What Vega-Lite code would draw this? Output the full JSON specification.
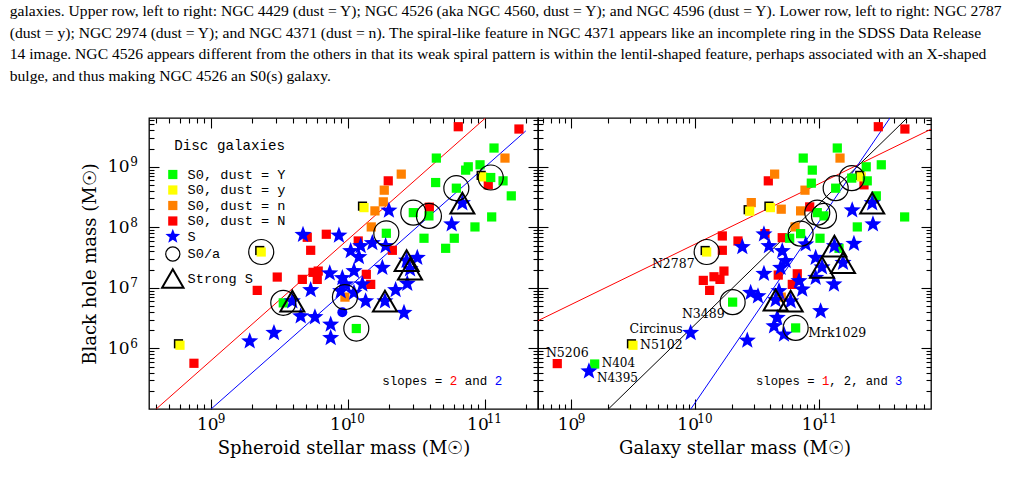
{
  "$schema": "https://vega.github.io/schema/vega-lite/v6.json",
  "background": "white",
  "padding": {"left": 9, "top": 3, "right": 5, "bottom": 5},
  "title": {
    "text": [
      "galaxies. Upper row, left to right: NGC 4429 (dust = Y); NGC 4526 (aka NGC 4560, dust = Y); and NGC 4596 (dust = Y). Lower row, left to right: NGC 2787",
      "(dust = y); NGC 2974 (dust = Y); and NGC 4371 (dust = n). The spiral-like feature in NGC 4371 appears like an incomplete ring in the SDSS Data Release",
      "14 image. NGC 4526 appears different from the others in that its weak spiral pattern is within the lentil-shaped feature, perhaps associated with an X-shaped",
      "bulge, and thus making NGC 4526 an S0(s) galaxy."
    ],
    "anchor": "start",
    "font": "Liberation Serif",
    "fontSize": 15.6,
    "fontWeight": "normal",
    "color": "black",
    "lineHeight": 21.7,
    "offset": 30,
    "dx": -71
  },
  "datasets": {
    "spheroidFits": [
      {"fit": "upper", "m": 8.6025, "bh": 5.0},
      {"fit": "upper", "m": 11.0055, "bh": 9.806},
      {"fit": "lower", "m": 9.0035, "bh": 5.0},
      {"fit": "lower", "m": 11.30, "bh": 9.593}
    ],
    "galaxyFits": [
      {"fit": "slope 1", "m": 8.737, "bh": 6.459},
      {"fit": "slope 1", "m": 11.899, "bh": 9.621},
      {"fit": "slope 2", "m": 9.3035, "bh": 5.0},
      {"fit": "slope 2", "m": 11.7065, "bh": 9.806},
      {"fit": "slope 3", "m": 9.9667, "bh": 5.0},
      {"fit": "slope 3", "m": 11.5687, "bh": 9.806}
    ],
    "spheroid": [
      {"m": 8.776, "bh": 6.053, "type": "y"},
      {"m": 8.878, "bh": 5.755, "type": "N"},
      {"m": 9.369, "bh": 7.593, "type": "y", "s0a": true},
      {"m": 9.486, "bh": 7.179, "type": "N"},
      {"m": 9.340, "bh": 6.959, "type": "N"},
      {"m": 9.669, "bh": 7.141, "type": "N"},
      {"m": 9.705, "bh": 7.836, "type": "N"},
      {"m": 9.844, "bh": 7.886, "type": "N"},
      {"m": 9.730, "bh": 7.621, "type": "N"},
      {"m": 9.747, "bh": 7.257, "type": "N"},
      {"m": 9.785, "bh": 7.278, "type": "N"},
      {"m": 9.778, "bh": 7.141, "type": "N"},
      {"m": 10.077, "bh": 7.775, "type": "N"},
      {"m": 10.326, "bh": 7.621, "type": "N"},
      {"m": 10.136, "bh": 7.224, "type": "N"},
      {"m": 10.168, "bh": 7.058, "type": "N"},
      {"m": 10.296, "bh": 8.768, "type": "N"},
      {"m": 10.596, "bh": 8.333, "type": "N"},
      {"m": 10.807, "bh": 9.662, "type": "N"},
      {"m": 11.250, "bh": 9.624, "type": "N"},
      {"m": 11.026, "bh": 8.702, "type": "N"},
      {"m": 10.391, "bh": 8.879, "type": "n"},
      {"m": 10.267, "bh": 8.614, "type": "n"},
      {"m": 10.260, "bh": 8.421, "type": "n"},
      {"m": 10.199, "bh": 8.272, "type": "n"},
      {"m": 10.172, "bh": 8.007, "type": "n"},
      {"m": 9.980, "bh": 6.848, "type": "n", "s0a": true},
      {"m": 11.148, "bh": 9.144, "type": "n"},
      {"m": 10.119, "bh": 8.326, "type": "y"},
      {"m": 10.985, "bh": 8.834, "type": "y"},
      {"m": 9.530, "bh": 6.753, "type": "Y", "s0a": true},
      {"m": 10.063, "bh": 6.329, "type": "Y", "s0a": true},
      {"m": 10.282, "bh": 7.902, "type": "Y", "s0a": true},
      {"m": 10.479, "bh": 8.243, "type": "Y", "s0a": true},
      {"m": 10.593, "bh": 8.189, "type": "Y", "s0a": true},
      {"m": 10.793, "bh": 8.647, "type": "Y", "s0a": true},
      {"m": 11.044, "bh": 8.823, "type": "Y", "s0a": true},
      {"m": 10.647, "bh": 9.144, "type": "Y"},
      {"m": 11.068, "bh": 9.310, "type": "Y"},
      {"m": 10.880, "bh": 9.000, "type": "Y"},
      {"m": 10.861, "bh": 8.945, "type": "Y"},
      {"m": 10.966, "bh": 9.033, "type": "Y"},
      {"m": 11.134, "bh": 8.768, "type": "Y"},
      {"m": 11.194, "bh": 8.520, "type": "Y"},
      {"m": 10.642, "bh": 8.740, "type": "Y"},
      {"m": 11.051, "bh": 8.172, "type": "Y"},
      {"m": 10.929, "bh": 8.007, "type": "Y"},
      {"m": 10.557, "bh": 7.820, "type": "Y"},
      {"m": 10.778, "bh": 7.820, "type": "Y"},
      {"m": 10.715, "bh": 7.654, "type": "Y"},
      {"m": 9.285, "bh": 6.119, "type": "S"},
      {"m": 9.462, "bh": 6.257, "type": "S"},
      {"m": 9.596, "bh": 6.781, "type": "S", "strong": true},
      {"m": 9.657, "bh": 6.533, "type": "S"},
      {"m": 9.674, "bh": 7.877, "type": "S"},
      {"m": 9.936, "bh": 7.866, "type": "S"},
      {"m": 9.730, "bh": 6.964, "type": "S"},
      {"m": 9.761, "bh": 6.517, "type": "S"},
      {"m": 9.876, "bh": 6.396, "type": "S"},
      {"m": 9.876, "bh": 6.174, "type": "S"},
      {"m": 9.869, "bh": 7.242, "type": "S"},
      {"m": 9.961, "bh": 7.162, "type": "S"},
      {"m": 10.046, "bh": 7.278, "type": "S"},
      {"m": 10.022, "bh": 7.609, "type": "S"},
      {"m": 10.095, "bh": 7.692, "type": "S"},
      {"m": 10.082, "bh": 7.510, "type": "S"},
      {"m": 10.180, "bh": 7.742, "type": "S"},
      {"m": 10.277, "bh": 7.692, "type": "S"},
      {"m": 10.301, "bh": 8.277, "type": "S"},
      {"m": 10.253, "bh": 7.333, "type": "S"},
      {"m": 9.985, "bh": 7.058, "type": "S"},
      {"m": 10.107, "bh": 7.058, "type": "S"},
      {"m": 10.046, "bh": 6.919, "type": "S"},
      {"m": 9.949, "bh": 6.947, "type": "S"},
      {"m": 10.131, "bh": 6.781, "type": "S"},
      {"m": 10.350, "bh": 6.964, "type": "S"},
      {"m": 10.435, "bh": 7.071, "type": "S"},
      {"m": 10.508, "bh": 7.498, "type": "S"},
      {"m": 10.430, "bh": 7.450, "type": "S", "strong": true},
      {"m": 10.455, "bh": 7.310, "type": "S", "strong": true},
      {"m": 10.272, "bh": 6.781, "type": "S", "strong": true},
      {"m": 10.411, "bh": 6.588, "type": "S"},
      {"m": 10.759, "bh": 8.051, "type": "S"},
      {"m": 10.837, "bh": 8.400, "type": "S", "strong": true},
      {"m": 9.961, "bh": 6.599, "type": "dot"}
    ],
    "galaxy": [
      {"m": 8.892, "bh": 5.750, "type": "N", "name": "N5206"},
      {"m": 10.220, "bh": 7.858, "type": "N"},
      {"m": 10.346, "bh": 7.775, "type": "N"},
      {"m": 10.563, "bh": 7.896, "type": "N"},
      {"m": 10.220, "bh": 7.621, "type": "N"},
      {"m": 10.233, "bh": 7.278, "type": "N"},
      {"m": 10.153, "bh": 7.184, "type": "N"},
      {"m": 10.201, "bh": 7.141, "type": "N"},
      {"m": 10.067, "bh": 7.124, "type": "N"},
      {"m": 10.118, "bh": 6.959, "type": "N"},
      {"m": 10.590, "bh": 8.768, "type": "N"},
      {"m": 10.923, "bh": 8.338, "type": "N"},
      {"m": 11.475, "bh": 9.662, "type": "N"},
      {"m": 11.689, "bh": 9.624, "type": "N"},
      {"m": 11.360, "bh": 8.702, "type": "N"},
      {"m": 10.702, "bh": 7.829, "type": "N"},
      {"m": 10.823, "bh": 7.233, "type": "N"},
      {"m": 10.670, "bh": 7.212, "type": "N"},
      {"m": 10.783, "bh": 7.058, "type": "N"},
      {"m": 10.453, "bh": 8.409, "type": "n"},
      {"m": 10.641, "bh": 8.879, "type": "n"},
      {"m": 10.885, "bh": 8.614, "type": "n"},
      {"m": 10.694, "bh": 8.300, "type": "n"},
      {"m": 10.850, "bh": 8.272, "type": "n"},
      {"m": 10.805, "bh": 8.007, "type": "n"},
      {"m": 11.167, "bh": 9.144, "type": "n"},
      {"m": 10.694, "bh": 6.848, "type": "n"},
      {"m": 10.094, "bh": 7.593, "type": "y", "s0a": true, "name": "N2787"},
      {"m": 10.440, "bh": 8.267, "type": "y"},
      {"m": 10.607, "bh": 8.326, "type": "y"},
      {"m": 11.338, "bh": 8.834, "type": "y"},
      {"m": 9.501, "bh": 6.053, "type": "y", "name": "N5102"},
      {"m": 9.193, "bh": 5.743, "type": "Y", "name": "N404"},
      {"m": 10.303, "bh": 6.765, "type": "Y", "s0a": true, "name": "N3489"},
      {"m": 10.810, "bh": 6.339, "type": "Y", "s0a": true, "name": "Mrk1029"},
      {"m": 10.850, "bh": 7.896, "type": "Y", "s0a": true},
      {"m": 10.984, "bh": 8.243, "type": "Y", "s0a": true},
      {"m": 11.038, "bh": 8.189, "type": "Y", "s0a": true},
      {"m": 11.132, "bh": 8.647, "type": "Y", "s0a": true},
      {"m": 11.261, "bh": 8.813, "type": "Y", "s0a": true},
      {"m": 11.145, "bh": 9.310, "type": "Y"},
      {"m": 10.871, "bh": 9.144, "type": "Y"},
      {"m": 10.944, "bh": 8.945, "type": "Y"},
      {"m": 11.378, "bh": 9.000, "type": "Y"},
      {"m": 11.499, "bh": 9.033, "type": "Y"},
      {"m": 11.386, "bh": 8.768, "type": "Y"},
      {"m": 10.936, "bh": 8.730, "type": "Y"},
      {"m": 11.459, "bh": 8.520, "type": "Y"},
      {"m": 11.687, "bh": 8.172, "type": "Y"},
      {"m": 11.306, "bh": 8.007, "type": "Y"},
      {"m": 10.762, "bh": 7.820, "type": "Y"},
      {"m": 11.006, "bh": 7.820, "type": "Y"},
      {"m": 11.159, "bh": 7.654, "type": "Y"},
      {"m": 9.147, "bh": 5.623, "type": "S", "name": "N4395"},
      {"m": 9.965, "bh": 6.257, "type": "S", "name": "Circinus"},
      {"m": 10.421, "bh": 6.131, "type": "S"},
      {"m": 10.381, "bh": 7.675, "type": "S"},
      {"m": 10.555, "bh": 7.886, "type": "S"},
      {"m": 10.595, "bh": 7.692, "type": "S"},
      {"m": 10.555, "bh": 7.233, "type": "S"},
      {"m": 10.448, "bh": 6.919, "type": "S"},
      {"m": 10.507, "bh": 6.864, "type": "S"},
      {"m": 10.702, "bh": 7.609, "type": "S"},
      {"m": 10.891, "bh": 7.720, "type": "S"},
      {"m": 11.279, "bh": 7.730, "type": "S"},
      {"m": 11.265, "bh": 8.283, "type": "S"},
      {"m": 11.432, "bh": 8.051, "type": "S"},
      {"m": 11.426, "bh": 8.400, "type": "S", "strong": true},
      {"m": 11.122, "bh": 7.690, "type": "S", "strong": true},
      {"m": 11.191, "bh": 7.416, "type": "S", "strong": true},
      {"m": 11.022, "bh": 7.340, "type": "S", "strong": true},
      {"m": 10.971, "bh": 7.498, "type": "S"},
      {"m": 11.118, "bh": 7.058, "type": "S"},
      {"m": 10.971, "bh": 7.167, "type": "S"},
      {"m": 10.689, "bh": 7.333, "type": "S"},
      {"m": 10.837, "bh": 7.113, "type": "S"},
      {"m": 10.863, "bh": 6.975, "type": "S"},
      {"m": 10.676, "bh": 6.947, "type": "S"},
      {"m": 10.770, "bh": 6.780, "type": "S", "strong": true},
      {"m": 10.649, "bh": 6.800, "type": "S", "strong": true},
      {"m": 10.662, "bh": 6.505, "type": "S"},
      {"m": 10.636, "bh": 6.368, "type": "S"},
      {"m": 10.716, "bh": 6.230, "type": "S"},
      {"m": 11.011, "bh": 6.616, "type": "S"},
      {"m": 10.730, "bh": 7.444, "type": "S"}
    ]
  },
  "spacing": 0,
  "bounds": "flush",
  "resolve": {"scale": {"x": "independent", "y": "independent", "shape": "independent", "fill": "independent", "stroke": "independent"}},
  "hconcat": [
    {
      "width": 389,
      "height": 291,
      "resolve": {"axis": {"x": "independent", "y": "independent"}},
      "layer": [
        {
          "data": {"name": "spheroidFits"},
          "mark": {"type": "line", "strokeWidth": 1, "clip": true},
          "encoding": {
            "x": {"field": "m", "type": "quantitative", "scale": {"domain": [8.55, 11.389], "nice": false, "zero": false},
              "axis": {"orient": "bottom", "values": [9, 10, 11], "labels": false, "tickSize": -10, "title": null}},
            "y": {"field": "bh", "type": "quantitative", "scale": {"domain": [5, 9.806], "nice": false, "zero": false},
              "axis": {"orient": "left", "values": [6, 7, 8, 9], "labels": false, "tickSize": -10, "title": null}},
            "stroke": {"field": "fit", "type": "nominal", "scale": {"domain": ["upper", "lower"], "range": ["#ff0000", "#0000ff"]}, "legend": null}
          }
        },
        {
          "data": {"name": "spheroidFits"},
          "mark": {"type": "point", "opacity": 0},
          "encoding": {
            "x": {"field": "m", "type": "quantitative", "axis": {"orient": "bottom", "values": [8.602, 8.699, 8.778, 8.845, 8.903, 8.954, 9.301, 9.477, 9.602, 9.699, 9.778, 9.845, 9.903, 9.954, 10.301, 10.477, 10.602, 10.699, 10.778, 10.845, 10.903, 10.954, 11.301], "labels": false, "tickSize": -5, "title": null}},
            "y": {"field": "bh", "type": "quantitative", "axis": {"orient": "left", "values": [5.301, 5.477, 5.602, 5.699, 5.778, 5.845, 5.903, 5.954, 6.301, 6.477, 6.602, 6.699, 6.778, 6.845, 6.903, 6.954, 7.301, 7.477, 7.602, 7.699, 7.778, 7.845, 7.903, 7.954, 8.301, 8.477, 8.602, 8.699, 8.778, 8.845, 8.903, 8.954, 9.301, 9.477, 9.602, 9.699, 9.778], "labels": false, "tickSize": -5, "title": null}}
          }
        },
        {
          "data": {"name": "spheroidFits"},
          "mark": {"type": "point", "opacity": 0},
          "encoding": {
            "x": {"field": "m", "type": "quantitative", "axis": {"orient": "top", "values": [9, 10, 11], "labels": false, "tickSize": -10, "title": null}},
            "y": {"field": "bh", "type": "quantitative", "axis": {"orient": "right", "values": [6, 7, 8, 9], "labels": false, "tickSize": -10, "title": null}}
          }
        },
        {
          "data": {"name": "spheroidFits"},
          "mark": {"type": "point", "opacity": 0},
          "encoding": {
            "x": {"field": "m", "type": "quantitative", "axis": {"orient": "top", "values": [8.602, 8.699, 8.778, 8.845, 8.903, 8.954, 9.301, 9.477, 9.602, 9.699, 9.778, 9.845, 9.903, 9.954, 10.301, 10.477, 10.602, 10.699, 10.778, 10.845, 10.903, 10.954, 11.301], "labels": false, "tickSize": -5, "title": null}},
            "y": {"field": "bh", "type": "quantitative", "axis": {"orient": "right", "values": [5.301, 5.477, 5.602, 5.699, 5.778, 5.845, 5.903, 5.954, 6.301, 6.477, 6.602, 6.699, 6.778, 6.845, 6.903, 6.954, 7.301, 7.477, 7.602, 7.699, 7.778, 7.845, 7.903, 7.954, 8.301, 8.477, 8.602, 8.699, 8.778, 8.845, 8.903, 8.954, 9.301, 9.477, 9.602, 9.699, 9.778], "labels": false, "tickSize": -5, "title": null}}
          }
        },
        {
          "data": {"name": "spheroidFits"},
          "mark": {"type": "point", "opacity": 0},
          "encoding": {
            "x": {"field": "m", "type": "quantitative", "axis": {"orient": "bottom", "values": [9], "ticks": false, "labelExpr": "'10'", "labelOffset": -3.4, "labelPadding": 7.5, "labelFontSize": 17, "title": null}},
            "y": {"field": "bh", "type": "quantitative", "axis": {"orient": "left", "values": [6, 7, 8, 9], "ticks": false, "labelExpr": "'10'", "labelPadding": 20, "labelFontSize": 17, "title": "Black hole mass (M☉)", "titlePadding": 8}}
          }
        },
        {
          "data": {"name": "spheroidFits"},
          "mark": {"type": "point", "opacity": 0},
          "encoding": {
            "x": {"field": "m", "type": "quantitative", "axis": {"orient": "bottom", "values": [10, 11], "ticks": false, "labelExpr": "'10'", "labelOffset": -7.3, "labelPadding": 7.5, "labelFontSize": 17, "title": "Spheroid stellar mass (M☉)", "titlePadding": 7}},
            "y": {"field": "bh", "type": "quantitative", "axis": {"orient": "left", "values": [6, 7, 8, 9], "ticks": false, "labelExpr": "'' + datum.value", "labelPadding": 11.7, "labelOffset": -5, "labelFontSize": 12, "title": null}}
          }
        },
        {
          "data": {"name": "spheroidFits"},
          "mark": {"type": "point", "opacity": 0},
          "encoding": {
            "x": {"field": "m", "type": "quantitative", "axis": {"orient": "bottom", "values": [9], "ticks": false, "labelExpr": "'9'", "labelAlign": "left", "labelOffset": 6.5, "labelPadding": 4, "labelFontSize": 12, "title": null}},
            "y": {"field": "bh", "type": "quantitative", "axis": null}
          }
        },
        {
          "data": {"name": "spheroidFits"},
          "mark": {"type": "point", "opacity": 0},
          "encoding": {
            "x": {"field": "m", "type": "quantitative", "axis": {"orient": "bottom", "values": [10, 11], "ticks": false, "labelExpr": "'' + datum.value", "labelAlign": "left", "labelOffset": 1.5, "labelPadding": 4, "labelFontSize": 12, "title": null}},
            "y": {"field": "bh", "type": "quantitative", "axis": null}
          }
        },
        {
          "data": {"name": "spheroid"},
          "transform": [{"filter": "datum.type == 'y'"}],
          "mark": {"type": "point", "shape": "square", "filled": true, "color": "black", "opacity": 1, "size": 85, "xOffset": -1.5, "yOffset": -1.5},
          "encoding": {
            "x": {"field": "m", "type": "quantitative", "axis": null},
            "y": {"field": "bh", "type": "quantitative", "axis": null}
          }
        },
        {
          "data": {"name": "spheroid"},
          "transform": [{"filter": "datum.type != 'dot'"}],
          "mark": {"type": "point", "filled": true, "opacity": 1, "strokeWidth": 0},
          "encoding": {
            "x": {"field": "m", "type": "quantitative", "axis": null},
            "y": {"field": "bh", "type": "quantitative", "axis": null},
            "shape": {
              "field": "type", "type": "nominal",
              "scale": {"domain": ["Y", "y", "n", "N", "S", "S0/a", "Strong S"], "range": ["square", "square", "square", "square", "M0,-1L0.2469,-0.3398L0.9511,-0.309L0.3995,0.1298L0.5878,0.809L0,0.42L-0.5878,0.809L-0.3995,0.1298L-0.9511,-0.309L-0.2469,-0.3398Z", "circle", "triangle-up"]},
              "legend": {
                "orient": "none", "legendX": 17, "legendY": 21, "padding": 0,
                "title": "Disc galaxies", "titleAnchor": "end", "titleFont": "Liberation Mono", "titleFontSize": 14.2, "titleFontWeight": "normal", "titleColor": "black", "titlePadding": 14.5,
                "labelFont": "Liberation Mono", "labelFontSize": 13.6, "labelColor": "black", "labelOffset": 8, "rowPadding": 0.5, "symbolSize": 324,
                "labelExpr": "datum.value == 'S' || datum.value == 'S0/a' || datum.value == 'Strong S' ? datum.value : 'S0, dust = ' + datum.value",
                "encoding": {
                  "symbols": {
                    "fill": {"value": {"expr": "datum.value == 'Y' ? '#00ff00' : datum.value == 'y' ? '#ffff00' : datum.value == 'n' ? '#ff8000' : datum.value == 'N' ? '#ff0000' : datum.value == 'S' ? '#0000ff' : 'transparent'"}},
                    "stroke": {"value": {"expr": "datum.value == 'S0/a' || datum.value == 'Strong S' ? 'black' : 'transparent'"}},
                    "strokeWidth": {"value": {"expr": "datum.value == 'Strong S' ? 2 : datum.value == 'S0/a' ? 1.2 : 0"}},
                    "size": {"value": {"expr": "datum.value == 'S' ? 240 : datum.value == 'S0/a' ? 200 : datum.value == 'Strong S' ? 460 : 85"}},
                    "opacity": {"value": 1}
                  }
                }
              }
            },
            "fill": {
              "field": "type", "type": "nominal",
              "scale": {"domain": ["Y", "y", "n", "N", "S", "S0/a", "Strong S"], "range": ["#00ff00", "#ffff00", "#ff8000", "#ff0000", "#0000ff", "#ffffff", "#ffffff"]},
              "legend": null
            },
            "size": {"condition": {"test": "datum.type == 'S'", "value": 324}, "value": 85}
          }
        },
        {
          "data": {"name": "spheroid"},
          "transform": [{"filter": "datum.type == 'dot'"}],
          "mark": {"type": "point", "shape": "circle", "filled": true, "color": "#0000ff", "opacity": 1, "size": 100},
          "encoding": {
            "x": {"field": "m", "type": "quantitative", "axis": null},
            "y": {"field": "bh", "type": "quantitative", "axis": null}
          }
        },
        {
          "data": {"name": "spheroid"},
          "transform": [{"filter": "datum.s0a"}],
          "mark": {"type": "point", "shape": "circle", "filled": false, "color": "black", "strokeWidth": 1.2, "opacity": 1, "size": 625},
          "encoding": {
            "x": {"field": "m", "type": "quantitative", "axis": null},
            "y": {"field": "bh", "type": "quantitative", "axis": null}
          }
        },
        {
          "data": {"name": "spheroid"},
          "transform": [{"filter": "datum.strong"}],
          "mark": {"type": "point", "shape": "triangle-up", "filled": false, "color": "black", "strokeWidth": 2, "opacity": 1, "size": 576},
          "encoding": {
            "x": {"field": "m", "type": "quantitative", "axis": null},
            "y": {"field": "bh", "type": "quantitative", "axis": null}
          }
        },
        {
          "data": {"values": [{}]},
          "mark": {"type": "text", "align": "left", "baseline": "middle", "font": "Liberation Mono", "fontSize": 12.5, "color": "black"},
          "encoding": {
            "x": {"datum": 10.2526, "type": "quantitative", "axis": null},
            "y": {"datum": 5.4685, "type": "quantitative", "axis": null},
            "text": {"value": "slopes ="}
          }
        },
        {
          "data": {"values": [{}]},
          "mark": {"type": "text", "align": "left", "baseline": "middle", "font": "Liberation Mono", "fontSize": 12.5, "color": "#ff0000", "dx": 67.5},
          "encoding": {
            "x": {"datum": 10.2526, "type": "quantitative", "axis": null},
            "y": {"datum": 5.4685, "type": "quantitative", "axis": null},
            "text": {"value": "2"}
          }
        },
        {
          "data": {"values": [{}]},
          "mark": {"type": "text", "align": "left", "baseline": "middle", "font": "Liberation Mono", "fontSize": 12.5, "color": "black", "dx": 82.5},
          "encoding": {
            "x": {"datum": 10.2526, "type": "quantitative", "axis": null},
            "y": {"datum": 5.4685, "type": "quantitative", "axis": null},
            "text": {"value": "and"}
          }
        },
        {
          "data": {"values": [{}]},
          "mark": {"type": "text", "align": "left", "baseline": "middle", "font": "Liberation Mono", "fontSize": 12.5, "color": "#0000ff", "dx": 112.5},
          "encoding": {
            "x": {"datum": 10.2526, "type": "quantitative", "axis": null},
            "y": {"datum": 5.4685, "type": "quantitative", "axis": null},
            "text": {"value": "2"}
          }
        }
      ]
    },
    {
      "width": 393,
      "height": 291,
      "resolve": {"axis": {"x": "independent", "y": "independent"}},
      "layer": [
        {
          "data": {"name": "galaxyFits"},
          "mark": {"type": "line", "strokeWidth": 1, "clip": true},
          "encoding": {
            "x": {"field": "m", "type": "quantitative", "scale": {"domain": [8.737, 11.899], "nice": false, "zero": false},
              "axis": {"orient": "bottom", "values": [9, 10, 11], "labels": false, "tickSize": -10, "title": null}},
            "y": {"field": "bh", "type": "quantitative", "scale": {"domain": [5, 9.806], "nice": false, "zero": false},
              "axis": {"orient": "left", "values": [6, 7, 8, 9], "labels": false, "tickSize": -10, "title": null}},
            "stroke": {"field": "fit", "type": "nominal", "scale": {"domain": ["slope 1", "slope 2", "slope 3"], "range": ["#ff0000", "#000000", "#0000ff"]}, "legend": null}
          }
        },
        {
          "data": {"name": "galaxyFits"},
          "mark": {"type": "point", "opacity": 0},
          "encoding": {
            "x": {"field": "m", "type": "quantitative", "axis": {"orient": "bottom", "values": [8.778, 8.845, 8.903, 8.954, 9.301, 9.477, 9.602, 9.699, 9.778, 9.845, 9.903, 9.954, 10.301, 10.477, 10.602, 10.699, 10.778, 10.845, 10.903, 10.954, 11.301, 11.477, 11.602, 11.699, 11.778, 11.845], "labels": false, "tickSize": -5, "title": null}},
            "y": {"field": "bh", "type": "quantitative", "axis": {"orient": "left", "values": [5.301, 5.477, 5.602, 5.699, 5.778, 5.845, 5.903, 5.954, 6.301, 6.477, 6.602, 6.699, 6.778, 6.845, 6.903, 6.954, 7.301, 7.477, 7.602, 7.699, 7.778, 7.845, 7.903, 7.954, 8.301, 8.477, 8.602, 8.699, 8.778, 8.845, 8.903, 8.954, 9.301, 9.477, 9.602, 9.699, 9.778], "labels": false, "tickSize": -5, "title": null}}
          }
        },
        {
          "data": {"name": "galaxyFits"},
          "mark": {"type": "point", "opacity": 0},
          "encoding": {
            "x": {"field": "m", "type": "quantitative", "axis": {"orient": "top", "values": [9, 10, 11], "labels": false, "tickSize": -10, "title": null}},
            "y": {"field": "bh", "type": "quantitative", "axis": {"orient": "right", "values": [6, 7, 8, 9], "labels": false, "tickSize": -10, "title": null}}
          }
        },
        {
          "data": {"name": "galaxyFits"},
          "mark": {"type": "point", "opacity": 0},
          "encoding": {
            "x": {"field": "m", "type": "quantitative", "axis": {"orient": "top", "values": [8.778, 8.845, 8.903, 8.954, 9.301, 9.477, 9.602, 9.699, 9.778, 9.845, 9.903, 9.954, 10.301, 10.477, 10.602, 10.699, 10.778, 10.845, 10.903, 10.954, 11.301, 11.477, 11.602, 11.699, 11.778, 11.845], "labels": false, "tickSize": -5, "title": null}},
            "y": {"field": "bh", "type": "quantitative", "axis": {"orient": "right", "values": [5.301, 5.477, 5.602, 5.699, 5.778, 5.845, 5.903, 5.954, 6.301, 6.477, 6.602, 6.699, 6.778, 6.845, 6.903, 6.954, 7.301, 7.477, 7.602, 7.699, 7.778, 7.845, 7.903, 7.954, 8.301, 8.477, 8.602, 8.699, 8.778, 8.845, 8.903, 8.954, 9.301, 9.477, 9.602, 9.699, 9.778], "labels": false, "tickSize": -5, "title": null}}
          }
        },
        {
          "data": {"name": "galaxyFits"},
          "mark": {"type": "point", "opacity": 0},
          "encoding": {
            "x": {"field": "m", "type": "quantitative", "axis": {"orient": "bottom", "values": [9], "ticks": false, "labelExpr": "'10'", "labelOffset": -2.7, "labelPadding": 7.5, "labelFontSize": 17, "title": null}},
            "y": {"field": "bh", "type": "quantitative", "axis": null}
          }
        },
        {
          "data": {"name": "galaxyFits"},
          "mark": {"type": "point", "opacity": 0},
          "encoding": {
            "x": {"field": "m", "type": "quantitative", "axis": {"orient": "bottom", "values": [10, 11], "ticks": false, "labelExpr": "'10'", "labelOffset": -7.3, "labelPadding": 7.5, "labelFontSize": 17, "title": "Galaxy stellar mass (M☉)", "titlePadding": 7}},
            "y": {"field": "bh", "type": "quantitative", "axis": null}
          }
        },
        {
          "data": {"name": "galaxyFits"},
          "mark": {"type": "point", "opacity": 0},
          "encoding": {
            "x": {"field": "m", "type": "quantitative", "axis": {"orient": "bottom", "values": [9], "ticks": false, "labelExpr": "'9'", "labelAlign": "left", "labelOffset": 6.6, "labelPadding": 4, "labelFontSize": 12, "title": null}},
            "y": {"field": "bh", "type": "quantitative", "axis": null}
          }
        },
        {
          "data": {"name": "galaxyFits"},
          "mark": {"type": "point", "opacity": 0},
          "encoding": {
            "x": {"field": "m", "type": "quantitative", "axis": {"orient": "bottom", "values": [10, 11], "ticks": false, "labelExpr": "'' + datum.value", "labelAlign": "left", "labelOffset": 1.8, "labelPadding": 4, "labelFontSize": 12, "title": null}},
            "y": {"field": "bh", "type": "quantitative", "axis": null}
          }
        },
        {
          "data": {"name": "galaxy"},
          "transform": [{"filter": "datum.type == 'y'"}],
          "mark": {"type": "point", "shape": "square", "filled": true, "color": "black", "opacity": 1, "size": 85, "xOffset": -1.5, "yOffset": -1.5},
          "encoding": {
            "x": {"field": "m", "type": "quantitative", "axis": null},
            "y": {"field": "bh", "type": "quantitative", "axis": null}
          }
        },
        {
          "data": {"name": "galaxy"},
          "mark": {"type": "point", "filled": true, "opacity": 1, "strokeWidth": 0},
          "encoding": {
            "x": {"field": "m", "type": "quantitative", "axis": null},
            "y": {"field": "bh", "type": "quantitative", "axis": null},
            "shape": {
              "field": "type", "type": "nominal",
              "scale": {"domain": ["Y", "y", "n", "N", "S"], "range": ["square", "square", "square", "square", "M0,-1L0.2469,-0.3398L0.9511,-0.309L0.3995,0.1298L0.5878,0.809L0,0.42L-0.5878,0.809L-0.3995,0.1298L-0.9511,-0.309L-0.2469,-0.3398Z"]},
              "legend": null
            },
            "fill": {
              "field": "type", "type": "nominal",
              "scale": {"domain": ["Y", "y", "n", "N", "S"], "range": ["#00ff00", "#ffff00", "#ff8000", "#ff0000", "#0000ff"]},
              "legend": null
            },
            "size": {"condition": {"test": "datum.type == 'S'", "value": 324}, "value": 85}
          }
        },
        {
          "data": {"name": "galaxy"},
          "transform": [{"filter": "datum.s0a"}],
          "mark": {"type": "point", "shape": "circle", "filled": false, "color": "black", "strokeWidth": 1.2, "opacity": 1, "size": 625},
          "encoding": {
            "x": {"field": "m", "type": "quantitative", "axis": null},
            "y": {"field": "bh", "type": "quantitative", "axis": null}
          }
        },
        {
          "data": {"name": "galaxy"},
          "transform": [{"filter": "datum.strong"}],
          "mark": {"type": "point", "shape": "triangle-up", "filled": false, "color": "black", "strokeWidth": 2, "opacity": 1, "size": 576},
          "encoding": {
            "x": {"field": "m", "type": "quantitative", "axis": null},
            "y": {"field": "bh", "type": "quantitative", "axis": null}
          }
        },
        {
          "data": {"name": "galaxy"},
          "transform": [{"filter": "datum.name == 'N2787'"}],
          "mark": {"type": "text", "align": "right", "baseline": "middle", "font": "DejaVu Serif", "fontSize": 12.5, "color": "black", "dx": -12, "dy": 12},
          "encoding": {
            "x": {"field": "m", "type": "quantitative", "axis": null},
            "y": {"field": "bh", "type": "quantitative", "axis": null},
            "text": {"field": "name"}
          }
        },
        {
          "data": {"name": "galaxy"},
          "transform": [{"filter": "datum.name == 'N3489'"}],
          "mark": {"type": "text", "align": "right", "baseline": "middle", "font": "DejaVu Serif", "fontSize": 12.5, "color": "black", "dx": -8, "dy": 12},
          "encoding": {
            "x": {"field": "m", "type": "quantitative", "axis": null},
            "y": {"field": "bh", "type": "quantitative", "axis": null},
            "text": {"field": "name"}
          }
        },
        {
          "data": {"name": "galaxy"},
          "transform": [{"filter": "datum.name == 'Circinus'"}],
          "mark": {"type": "text", "align": "right", "baseline": "middle", "font": "DejaVu Serif", "fontSize": 12.5, "color": "black", "dx": -8, "dy": -4},
          "encoding": {
            "x": {"field": "m", "type": "quantitative", "axis": null},
            "y": {"field": "bh", "type": "quantitative", "axis": null},
            "text": {"field": "name"}
          }
        },
        {
          "data": {"name": "galaxy"},
          "transform": [{"filter": "datum.name == 'N5102'"}],
          "mark": {"type": "text", "align": "left", "baseline": "middle", "font": "DejaVu Serif", "fontSize": 12.5, "color": "black", "dx": 7, "dy": 0},
          "encoding": {
            "x": {"field": "m", "type": "quantitative", "axis": null},
            "y": {"field": "bh", "type": "quantitative", "axis": null},
            "text": {"field": "name"}
          }
        },
        {
          "data": {"name": "galaxy"},
          "transform": [{"filter": "datum.name == 'N404'"}],
          "mark": {"type": "text", "align": "left", "baseline": "middle", "font": "DejaVu Serif", "fontSize": 12, "color": "black", "dx": 7, "dy": -1.5},
          "encoding": {
            "x": {"field": "m", "type": "quantitative", "axis": null},
            "y": {"field": "bh", "type": "quantitative", "axis": null},
            "text": {"field": "name"}
          }
        },
        {
          "data": {"name": "galaxy"},
          "transform": [{"filter": "datum.name == 'N5206'"}],
          "mark": {"type": "text", "align": "center", "baseline": "middle", "font": "DejaVu Serif", "fontSize": 12.5, "color": "black", "dx": 10, "dy": -11},
          "encoding": {
            "x": {"field": "m", "type": "quantitative", "axis": null},
            "y": {"field": "bh", "type": "quantitative", "axis": null},
            "text": {"field": "name"}
          }
        },
        {
          "data": {"name": "galaxy"},
          "transform": [{"filter": "datum.name == 'N4395'"}],
          "mark": {"type": "text", "align": "left", "baseline": "middle", "font": "DejaVu Serif", "fontSize": 12, "color": "black", "dx": 8, "dy": 6.5},
          "encoding": {
            "x": {"field": "m", "type": "quantitative", "axis": null},
            "y": {"field": "bh", "type": "quantitative", "axis": null},
            "text": {"field": "name"}
          }
        },
        {
          "data": {"name": "galaxy"},
          "transform": [{"filter": "datum.name == 'Mrk1029'"}],
          "mark": {"type": "text", "align": "left", "baseline": "middle", "font": "DejaVu Serif", "fontSize": 12.5, "color": "black", "dx": 12.5, "dy": 5},
          "encoding": {
            "x": {"field": "m", "type": "quantitative", "axis": null},
            "y": {"field": "bh", "type": "quantitative", "axis": null},
            "text": {"field": "name"}
          }
        },
        {
          "data": {"values": [{}]},
          "mark": {"type": "text", "align": "left", "baseline": "middle", "font": "Liberation Mono", "fontSize": 12.2, "color": "black"},
          "encoding": {
            "x": {"datum": 10.491, "type": "quantitative", "axis": null},
            "y": {"datum": 5.457, "type": "quantitative", "axis": null},
            "text": {"value": "slopes ="}
          }
        },
        {
          "data": {"values": [{}]},
          "mark": {"type": "text", "align": "left", "baseline": "middle", "font": "Liberation Mono", "fontSize": 12.2, "color": "#ff0000", "dx": 65.9},
          "encoding": {
            "x": {"datum": 10.491, "type": "quantitative", "axis": null},
            "y": {"datum": 5.457, "type": "quantitative", "axis": null},
            "text": {"value": "1"}
          }
        },
        {
          "data": {"values": [{}]},
          "mark": {"type": "text", "align": "left", "baseline": "middle", "font": "Liberation Mono", "fontSize": 12.2, "color": "black", "dx": 73.2},
          "encoding": {
            "x": {"datum": 10.491, "type": "quantitative", "axis": null},
            "y": {"datum": 5.457, "type": "quantitative", "axis": null},
            "text": {"value": ", 2, and"}
          }
        },
        {
          "data": {"values": [{}]},
          "mark": {"type": "text", "align": "left", "baseline": "middle", "font": "Liberation Mono", "fontSize": 12.2, "color": "#0000ff", "dx": 139.1},
          "encoding": {
            "x": {"datum": 10.491, "type": "quantitative", "axis": null},
            "y": {"datum": 5.457, "type": "quantitative", "axis": null},
            "text": {"value": "3"}
          }
        }
      ]
    }
  ],
  "config": {
    "view": {"stroke": "black", "strokeWidth": 1.3},
    "axis": {
      "grid": false, "domain": false,
      "tickColor": "black", "tickWidth": 1.1,
      "labelColor": "black", "titleColor": "black",
      "labelFont": "DejaVu Serif", "labelFontSize": 16,
      "titleFont": "DejaVu Serif", "titleFontSize": 18, "titleFontWeight": "normal",
      "labelFlush": false, "labelOverlap": false, "labelBound": false
    }
  }
}
